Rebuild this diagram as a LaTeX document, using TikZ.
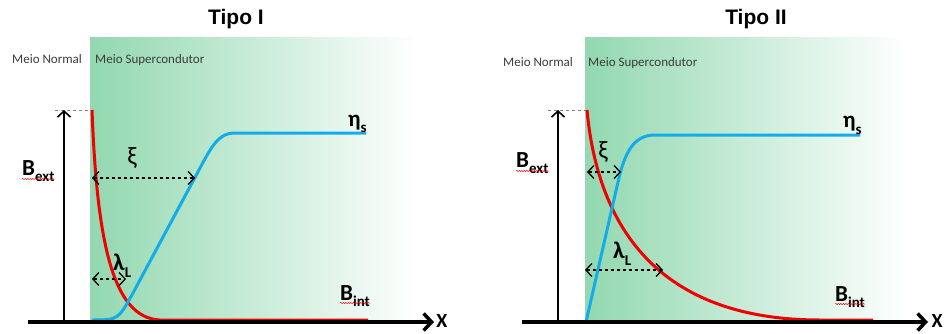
\documentclass[tikz,border=0pt]{standalone}
\usepackage{fontspec}
\setmainfont{Carlito}
\newfontfamily\titlefont{Liberation Sans}
\usetikzlibrary{arrows.meta,decorations.pathmorphing}
\definecolor{scgreen}{RGB}{146,216,176}
\definecolor{myred}{RGB}{240,0,0}
\definecolor{myblue}{RGB}{18,172,232}
\definecolor{txtgray}{RGB}{60,60,60}
\newcommand{\mysub}[1]{\raisebox{-0.3em}{\fontsize{15}{15}\selectfont #1}}
\begin{document}
\begin{tikzpicture}[x=1pt,y=-1pt,
  titlelbl/.style={font=\titlefont\bfseries\fontsize{21}{24}\selectfont, inner sep=0},
  medium/.style={font=\fontsize{13}{15}\selectfont, text=txtgray, inner sep=0, anchor=base west},
  biglbl/.style={font=\bfseries\fontsize{23}{26}\selectfont, inner sep=0, anchor=base west},
  greek/.style={font=\fontsize{25}{27}\selectfont, inner sep=0},
  axisline/.style={line width=3.5pt, -{Straight Barb[length=8pt,width=17pt]}},
  fieldarrow/.style={line width=1.6pt, -{Straight Barb[length=6pt,width=13pt]}},
  guide/.style={dashed, gray, line width=0.6pt},
  dimarrow/.style={dashed, line width=1.3pt, {Straight Barb[length=6pt,width=13pt]}-{Straight Barb[length=6pt,width=13pt]}},
  redcurve/.style={myred, line width=3pt},
  bluecurve/.style={myblue, line width=3pt},
  spell/.style={myred, line width=0.5pt, decorate, decoration={snake, amplitude=0.6pt, segment length=2.5pt}}
]
\useasboundingbox (0,0) rectangle (944,334);

% ---------------- Tipo I ----------------
\shade[left color=scgreen, right color=white] (90,38) rectangle (418,322);
\node[titlelbl] (t1) at (236,19) {Tipo I};
\node[medium] (mn1) at (12,64) {Meio Normal};
\node[medium] (ms1) at (95,64) {Meio Supercondutor};

\coordinate (b1bot) at (64,322);
\coordinate (b1top) at (64,110);
\coordinate (g1a) at (55,110);
\coordinate (g1b) at (93,110);
\draw[guide] (g1a) -- (g1b);
\draw[fieldarrow] (b1bot) -- (b1top);
\node[biglbl] (bext1) at (22,175) {B\mysub{ext}};
\draw[spell] ([yshift=-4pt]bext1.base west) -- ([yshift=-4pt]bext1.base east);

\coordinate (r1a) at (92,110);
\coordinate (r1b) at (160,320);
\coordinate (r1c) at (368,320);
\draw[redcurve] (r1a) .. controls (97,240) and (112,318) .. (r1b) -- (r1c);

\coordinate (u1a) at (92,320);
\coordinate (u1b) at (133,293);
\coordinate (u1c) at (192,183);
\coordinate (u1d) at (235,133);
\coordinate (u1e) at (366,133);
\draw[bluecurve] (u1a) .. controls (118,320) .. (u1b) -- (u1c) .. controls (210,150) and (216,133) .. (u1d) -- (u1e);

\coordinate (xi1a) at (92,178);
\coordinate (xi1b) at (195,178);
\draw[dimarrow] (xi1a) -- (xi1b);
\node[greek] (xi1) at (132,158) {ξ};

\coordinate (la1a) at (92,279);
\coordinate (la1b) at (126,279);
\draw[dimarrow] (la1a) -- (la1b);
\node[biglbl, font=\bfseries\fontsize{24}{26}\selectfont] (lam1) at (113,270) {λ\mysub{L}};

\node[biglbl] (eta1) at (348,126) {η\mysub{s}};
\node[biglbl] (bint1) at (340,300) {B\mysub{int}};
\draw[spell] ([yshift=-3pt]bint1.base west) -- ([yshift=-3pt]bint1.base east);

\coordinate (x1a) at (28,322);
\coordinate (x1b) at (434,322);
\draw[axisline] (x1a) -- (x1b);
\node[biglbl, anchor=center, font=\bfseries\fontsize{20}{22}\selectfont] (xl1) at (442,321) {X};

% ---------------- Tipo II ----------------
\shade[left color=scgreen, right color=white] (585,38) rectangle (908,322);
\node[titlelbl] (t2) at (756,19) {Tipo II};
\node[medium] (mn2) at (503,67) {Meio Normal};
\node[medium] (ms2) at (588,67) {Meio Supercondutor};

\coordinate (b2bot) at (558,322);
\coordinate (b2top) at (558,110);
\coordinate (g2a) at (548,110);
\coordinate (g2b) at (587,110);
\draw[guide] (g2a) -- (g2b);
\draw[fieldarrow] (b2bot) -- (b2top);
\node[biglbl] (bext2) at (516,167) {B\mysub{ext}};
\draw[spell] ([yshift=-4pt]bext2.base west) -- ([yshift=-4pt]bext2.base east);

\coordinate (r2a) at (587,110);
\coordinate (r2b) at (820,320);
\coordinate (r2c) at (873,320);
\draw[redcurve] (r2a) .. controls (600,250) and (680,320) .. (r2b) -- (r2c);

\coordinate (u2a) at (586,322);
\coordinate (u2b) at (618,182);
\coordinate (u2c) at (655,135);
\coordinate (u2d) at (860,135);
\draw[bluecurve] (u2a) -- (u2b) .. controls (625,150) and (635,135) .. (u2c) -- (u2d);

\coordinate (xi2a) at (587,172);
\coordinate (xi2b) at (621,172);
\draw[dimarrow] (xi2a) -- (xi2b);
\node[greek] (xi2) at (603,152) {ξ};

\coordinate (la2a) at (585,270);
\coordinate (la2b) at (663,270);
\draw[dimarrow] (la2a) -- (la2b);
\node[biglbl, font=\bfseries\fontsize{24}{26}\selectfont] (lam2) at (613,258) {λ\mysub{L}};

\node[biglbl] (eta2) at (843,128) {η\mysub{s}};
\node[biglbl] (bint2) at (835,301) {B\mysub{int}};
\draw[spell] ([yshift=-3pt]bint2.base west) -- ([yshift=-3pt]bint2.base east);

\coordinate (x2a) at (522,322);
\coordinate (x2b) at (928,322);
\draw[axisline] (x2a) -- (x2b);
\node[biglbl, anchor=center, font=\bfseries\fontsize{20}{22}\selectfont] (xl2) at (937,321) {X};
\end{tikzpicture}
\end{document}
